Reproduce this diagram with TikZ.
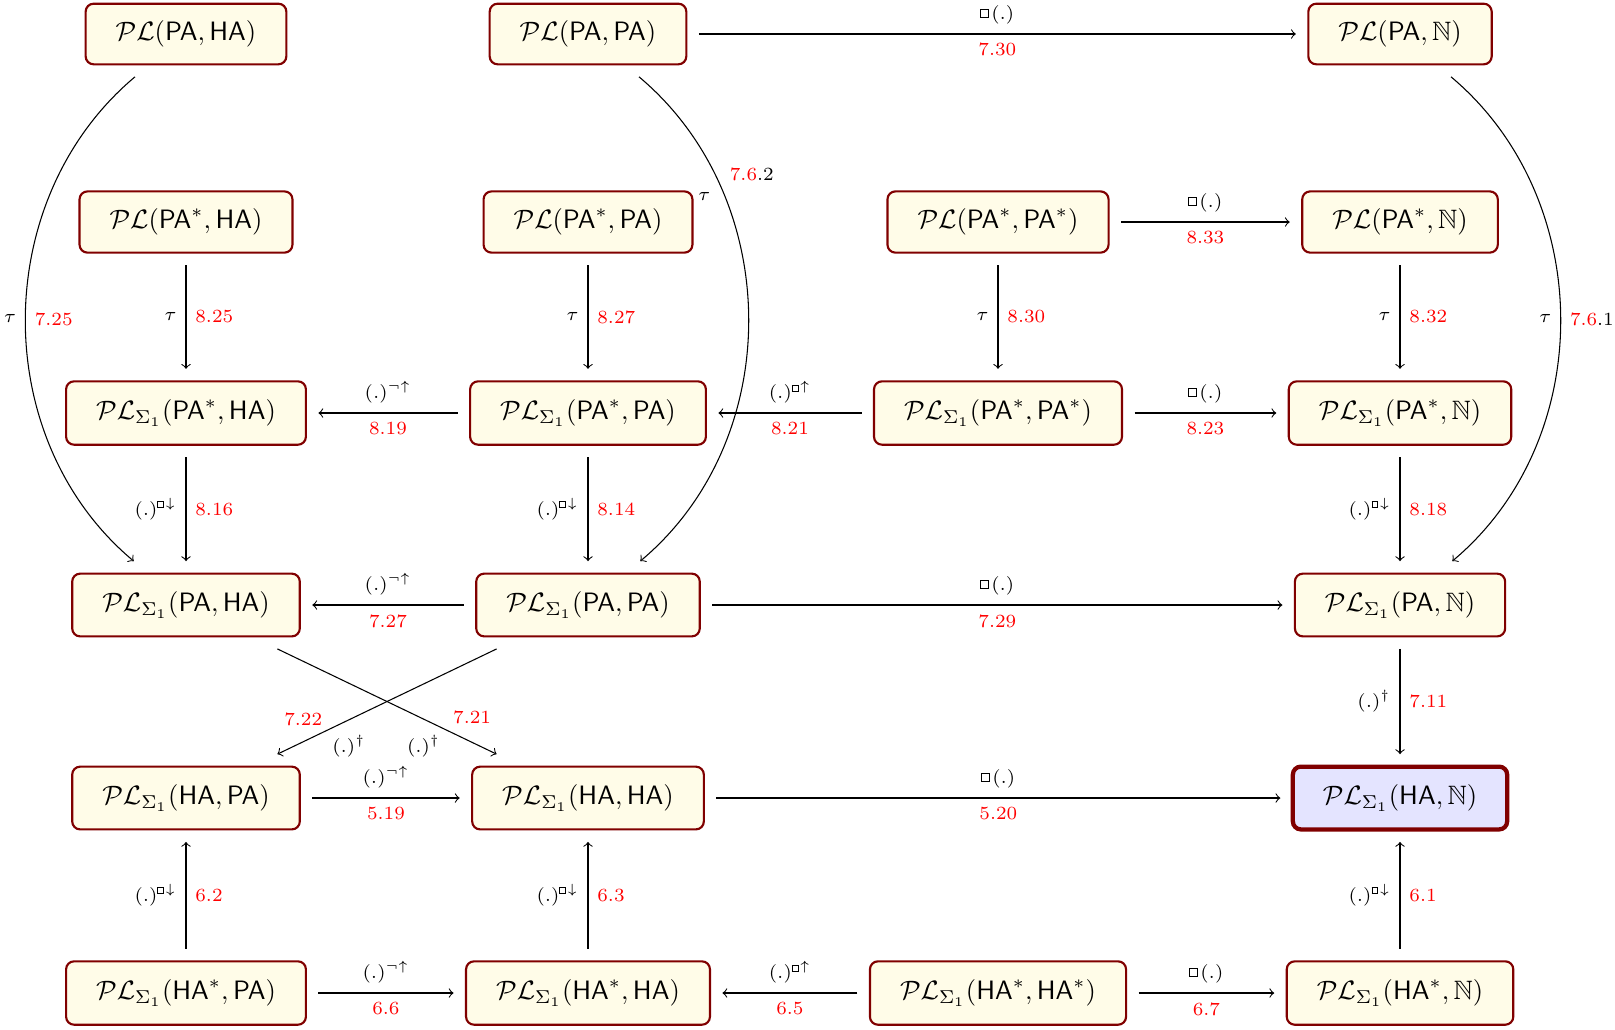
\documentclass[tikz,border=0pt]{standalone}
\usepackage{amsmath,amssymb}
\definecolor{boxred}{RGB}{128,0,0}
\definecolor{boxfill}{RGB}{255,252,232}
\definecolor{hlfill}{RGB}{228,228,255}
\newcommand{\PLc}{\mathcal{PL}}
\newcommand{\PLs}{\mathcal{PL}_{\Sigma_1}}
\newcommand{\sPA}{\mathsf{PA}}
\newcommand{\sHA}{\mathsf{HA}}
\newcommand{\smallsq}[2]{\mbox{\raisebox{#1}{\setlength{\fboxsep}{0pt}\setlength{\fboxrule}{0.35pt}\fbox{\rule{0pt}{#2}\rule{#2}{0pt}}}}}
\newcommand{\sqm}{\mathord{\smallsq{1.3pt}{2.5pt}}\mkern2mu}
\newcommand{\sqs}{\mathord{\smallsq{0.1pt}{1.9pt}}\mkern1mu}
\tikzset{
  box/.style={draw=boxred, fill=boxfill, line width=0.8pt, rounded corners=3pt,
    inner xsep=11.3pt, inner ysep=6.4pt, outer sep=4.7pt},
  sbox/.style={box, inner ysep=6.8pt},
  hlbox/.style={sbox, fill=hlfill, line width=1.6pt},
  arr/.style={->, line width=0.4pt},
  lab/.style={font=\scriptsize},
  num/.style={font=\scriptsize, text=red},
}
\begin{document}
\begin{tikzpicture}[x=0.376pt,y=-0.376pt]
\useasboundingbox (0,0) rectangle (1615,1029);
% row 1
\node[box] (a1) at (186,34) {$\PLc(\sPA,\sHA)$};
\node[box] (a2) at (588,34) {$\PLc(\sPA,\sPA)$};
\node[box] (a4) at (1400,34) {$\PLc(\sPA,\mathbb{N})$};
% row 2
\node[box] (b1) at (186,222) {$\PLc(\sPA^*,\sHA)$};
\node[box] (b2) at (588,222) {$\PLc(\sPA^*,\sPA)$};
\node[box] (b3) at (998,222) {$\PLc(\sPA^*,\sPA^*)$};
\node[box] (b4) at (1400,222) {$\PLc(\sPA^*,\mathbb{N})$};
% row 3
\node[sbox] (c1) at (186,413) {$\PLs(\sPA^*,\sHA)$};
\node[sbox] (c2) at (588,413) {$\PLs(\sPA^*,\sPA)$};
\node[sbox] (c3) at (998,413) {$\PLs(\sPA^*,\sPA^*)$};
\node[sbox] (c4) at (1400,413) {$\PLs(\sPA^*,\mathbb{N})$};
% row 4
\node[sbox] (d1) at (186,605) {$\PLs(\sPA,\sHA)$};
\node[sbox] (d2) at (588,605) {$\PLs(\sPA,\sPA)$};
\node[sbox] (d4) at (1400,605) {$\PLs(\sPA,\mathbb{N})$};
% row 5
\node[sbox] (e1) at (186,798) {$\PLs(\sHA,\sPA)$};
\node[sbox] (e2) at (588,798) {$\PLs(\sHA,\sHA)$};
\node[hlbox] (e4) at (1400,798) {$\PLs(\sHA,\mathbb{N})$};
% row 6
\node[sbox] (f1) at (186,993) {$\PLs(\sHA^*,\sPA)$};
\node[sbox] (f2) at (588,993) {$\PLs(\sHA^*,\sHA)$};
\node[sbox] (f3) at (998,993) {$\PLs(\sHA^*,\sHA^*)$};
\node[sbox] (f4) at (1400,993) {$\PLs(\sHA^*,\mathbb{N})$};

% horizontal arrows
\draw[arr] (a2) -- node[lab,above]{$\sqm(.)$} node[num,below]{7.30} (a4);
\draw[arr] (b3) -- node[lab,above]{$\sqm(.)$} node[num,below]{8.33} (b4);
\draw[arr] (c2) -- node[lab,above]{$(.)^{\neg\uparrow}$} node[num,below]{8.19} (c1);
\draw[arr] (c3) -- node[lab,above]{$(.)^{\sqs\uparrow}$} node[num,below]{8.21} (c2);
\draw[arr] (c3) -- node[lab,above]{$\sqm(.)$} node[num,below]{8.23} (c4);
\draw[arr] (d2) -- node[lab,above]{$(.)^{\neg\uparrow}$} node[num,below]{7.27} (d1);
\draw[arr] (d2) -- node[lab,above]{$\sqm(.)$} node[num,below]{7.29} (d4);
\draw[arr] (e1) -- node[lab,above]{$(.)^{\neg\uparrow}$} node[num,below]{5.19} (e2);
\draw[arr] (e2) -- node[lab,above]{$\sqm(.)$} node[num,below]{5.20} (e4);
\draw[arr] (f1) -- node[lab,above]{$(.)^{\neg\uparrow}$} node[num,below]{6.6} (f2);
\draw[arr] (f3) -- node[lab,above]{$(.)^{\sqs\uparrow}$} node[num,below]{6.5} (f2);
\draw[arr] (f3) -- node[lab,above]{$\sqm(.)$} node[num,below]{6.7} (f4);

% vertical arrows
\draw[arr] (b1) -- node[lab,left]{$\tau$} node[num,right]{8.25} (c1);
\draw[arr] (b2) -- node[lab,left]{$\tau$} node[num,right]{8.27} (c2);
\draw[arr] (b3) -- node[lab,left]{$\tau$} node[num,right]{8.30} (c3);
\draw[arr] (b4) -- node[lab,left]{$\tau$} node[num,right]{8.32} (c4);
\draw[arr] (c1) -- node[lab,left]{$(.)^{\sqs\downarrow}$} node[num,right]{8.16} (d1);
\draw[arr] (c2) -- node[lab,left]{$(.)^{\sqs\downarrow}$} node[num,right]{8.14} (d2);
\draw[arr] (c4) -- node[lab,left]{$(.)^{\sqs\downarrow}$} node[num,right]{8.18} (d4);
\draw[arr] (d4) -- node[lab,left]{$(.)^{\dagger}$} node[num,right]{7.11} (e4);
\draw[arr] (f1) -- node[lab,left]{$(.)^{\sqs\downarrow}$} node[num,right]{6.2} (e1);
\draw[arr] (f2) -- node[lab,left]{$(.)^{\sqs\downarrow}$} node[num,right]{6.3} (e2);
\draw[arr] (f4) -- node[lab,left]{$(.)^{\sqs\downarrow}$} node[num,right]{6.1} (e4);

% diagonals
\draw[arr] (d1) -- node[num,pos=0.888,yshift=9.3pt]{7.21} node[lab,pos=0.667,yshift=-10.3pt]{$(.)^{\dagger}$} (e2);
\draw[arr] (d2) -- node[num,pos=0.882,yshift=8.4pt]{7.22} node[lab,pos=0.674,yshift=-10.1pt]{$(.)^{\dagger}$} (e1);

% curves
\draw[arr] (a1) to[out=-140,in=140] node[lab,left]{$\tau$} node[num,right]{7.25} (d1);
\draw[arr] (a2) to[out=-40,in=40] node[lab,pos=0.27,left=2pt]{$\tau$} node[lab,pos=0.225,right=2pt]{\textcolor{red}{7.6}.2} (d2);
\draw[arr] (a4) to[out=-40,in=40] node[lab,left]{$\tau$} node[lab,right]{\textcolor{red}{7.6}.1} (d4);
\end{tikzpicture}
\end{document}
